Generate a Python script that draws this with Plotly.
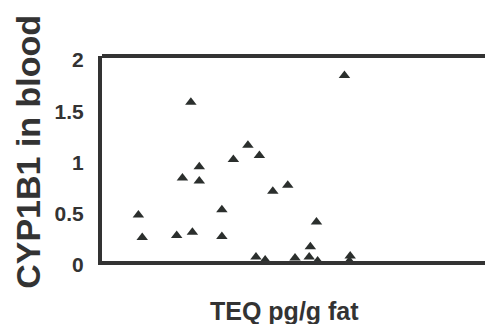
import plotly.graph_objects as go

teq = [9.5, 10.5, 19.5, 23.6, 23.2, 21.0, 25.4, 25.4, 31.3, 31.3, 34.3, 38.1, 41.1,
       44.6, 48.5, 56.0, 54.4, 63.3, 40.2, 42.6, 50.4, 54.1, 56.3, 64.8, 64.6]
cyp = [0.45, 0.23, 0.25, 0.28, 1.55, 0.81, 0.92, 0.78, 0.50, 0.24, 0.99, 1.13, 1.03,
       0.68, 0.74, 0.38, 0.14, 1.81, 0.04, 0.01, 0.03, 0.04, 0.0, 0.05, 0.0]
ytick_vals = [0, 0.5, 1, 1.5, 2]
ytick_text = ["0", "0.5", "1", "1.5", "2"]

ink = "#2b2f2d"
fig = go.Figure()
fig.add_trace(go.Scatter(
    x=teq, y=cyp, mode="markers",
    marker=dict(symbol="triangle-up", size=10, color=ink),
    cliponaxis=False, showlegend=False,
))

fig.update_layout(
    width=485, height=324,
    margin=dict(l=102, r=0, t=56, b=63),
    paper_bgcolor="white", plot_bgcolor="white",
    font=dict(family="Liberation Sans, Arial, sans-serif", color=ink),
    xaxis=dict(range=[0, 100], showgrid=False, zeroline=False, showticklabels=False,
               showline=True, linecolor="#333", linewidth=4, ticks=""),
    yaxis=dict(range=[0, 2], showgrid=False, zeroline=False,
               tickvals=ytick_vals, ticktext=ytick_text,
               tickfont=dict(size=21, family="Liberation Sans, Arial, sans-serif",
                             color="#333", weight="bold"),
               showline=True, linecolor="#333", linewidth=4, ticks="",
               ticklabelstandoff=10, ticklabelshift=4),
    shapes=[dict(type="line", xref="paper", yref="paper", x0=0, x1=1, y0=1, y1=1,
                 line=dict(color="#333", width=4))],
    annotations=[
        dict(text="<b>CYP1B1 in blood</b>", xref="paper", yref="paper",
             x=-0.195, y=0.534, xanchor="center", yanchor="middle", textangle=-90,
             showarrow=False, font=dict(size=34, color="#333")),
        dict(text="<b>TEQ pg/g fat</b>", xref="paper", yref="paper",
             x=0.477, y=-0.245, xanchor="center", yanchor="middle",
             showarrow=False, font=dict(size=25, color="#333")),
    ],
)

fig.write_html("out.html")
